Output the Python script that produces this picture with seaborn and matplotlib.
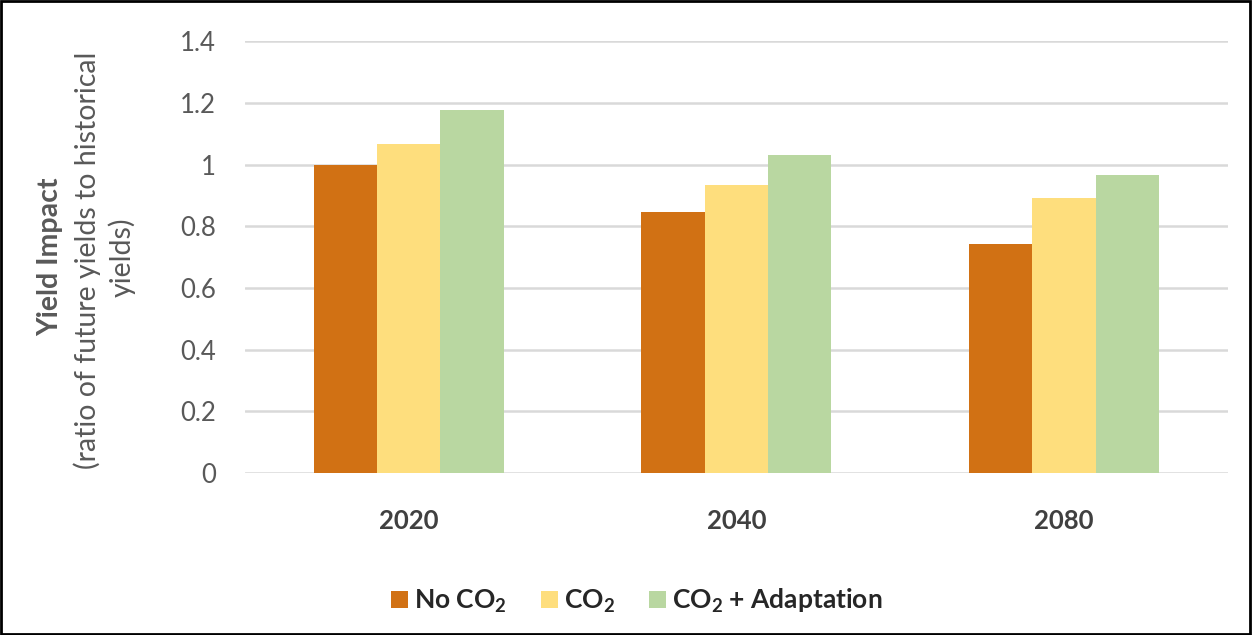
import matplotlib
matplotlib.use("Agg")
import matplotlib.pyplot as plt
from matplotlib.patches import Patch, Rectangle
import pandas as pd
import seaborn as sns

# data
years = ["2020", "2040", "2080"]
scenarios = ["No CO2", "CO2", "CO2 + Adaptation"]
no_co2 = [1.00, 0.845, 0.742]
co2 = [1.068, 0.933, 0.891]
co2_adapt = [1.178, 1.030, 0.966]
colors = ["#D17114", "#FEDE7D", "#B9D7A1"]
legend_labels = [r"No CO$_\mathbf{2}$", r"CO$_\mathbf{2}$", r"CO$_\mathbf{2}$ + Adaptation"]
yticks = [0, 0.2, 0.4, 0.6, 0.8, 1, 1.2, 1.4]

df = pd.DataFrame({
    "year": years * 3,
    "scenario": [s for s in scenarios for _ in years],
    "value": no_co2 + co2 + co2_adapt,
})

sns.set_style("white")
plt.rcParams["font.family"] = ["Lato", "DejaVu Sans"]
plt.rcParams["mathtext.fontset"] = "custom"
plt.rcParams["mathtext.rm"] = "Lato"
plt.rcParams["mathtext.bf"] = "Lato:bold"

fig = plt.figure(figsize=(12.53, 6.35), dpi=100)
ax = fig.add_axes([0.1955, 0.255, 0.7845, 0.68])

sns.barplot(data=df, x="year", y="value", hue="scenario", hue_order=scenarios,
            palette=colors, width=0.58, gap=0, linewidth=0, saturation=1,
            ax=ax, legend=False, zorder=3)

ax.set_ylim(0, 1.4)
ax.set_xlim(-0.5, 2.5)
ax.set_yticks(yticks)
ax.set_yticklabels(["0", "0.2", "0.4", "0.6", "0.8", "1", "1.2", "1.4"])
ax.tick_params(axis="y", labelsize=18.5, labelcolor="#595959", length=0, pad=21)
ax.tick_params(axis="x", labelsize=18.5, labelcolor="#404040", length=0, pad=26)
for t in ax.get_xticklabels():
    t.set_fontweight("bold")
ax.grid(axis="y", color="#d9d9d9", linewidth=1.8, zorder=0)
ax.grid(axis="x", visible=False)
for s in ax.spines.values():
    s.set_visible(False)
ax.set_xlabel("")
ax.set_ylabel("")

# y axis title, three rotated lines
fig.text(50 / 1253, 1 - 257 / 635, "Yield Impact", rotation=90, fontsize=20.5,
         fontweight="bold", color="#595959", ha="center", va="center")
fig.text(87 / 1253, 1 - 260 / 635, "(ratio of future yields to historical", rotation=90,
         fontsize=20.5, color="#595959", ha="center", va="center")
fig.text(122 / 1253, 1 - 257 / 635, "yields)", rotation=90,
         fontsize=20.5, color="#595959", ha="center", va="center")

handles = [Patch(facecolor=c, edgecolor="none") for c in colors]
leg = fig.legend(handles, legend_labels, loc="center", bbox_to_anchor=(637 / 1253, 1 - 601 / 635),
                 ncol=3, frameon=False, handlelength=0.62, handleheight=0.62,
                 handletextpad=0.25, columnspacing=1.3,
                 prop={"size": 19, "weight": "bold"})

fig.patches.append(Rectangle((0.001, 0.002), 0.997, 0.996, transform=fig.transFigure,
                             fill=False, edgecolor="black", linewidth=2))

fig.savefig("out.png", dpi=100)
